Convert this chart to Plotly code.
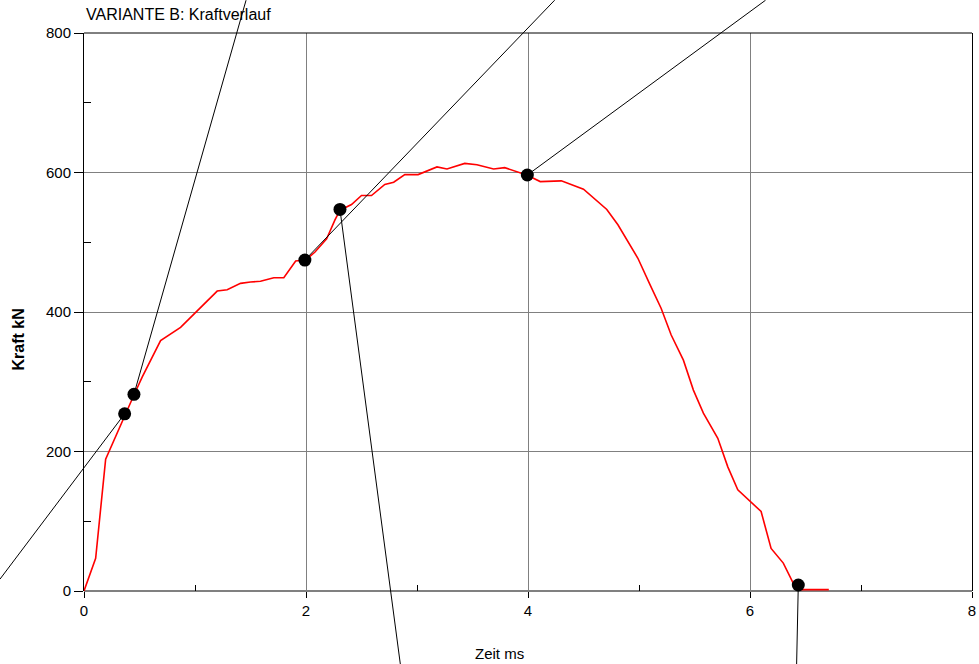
import plotly.graph_objects as go

# Kraftverlauf (red curve)
zeit = [0.0, 0.105, 0.195, 0.285, 0.366, 0.45, 0.525, 0.69, 0.87, 1.006,
        1.2, 1.29, 1.41, 1.5, 1.59, 1.71, 1.80, 1.907, 2.0, 2.081, 2.186, 2.261,
        2.306, 2.41, 2.50, 2.59, 2.71, 2.79, 2.89, 3.01, 3.18, 3.27, 3.43, 3.54,
        3.69, 3.79, 3.994, 4.11, 4.23, 4.30, 4.50, 4.71, 4.81, 4.89, 4.99, 5.10,
        5.20, 5.29, 5.40, 5.49, 5.58, 5.71, 5.80, 5.89, 6.00, 6.10, 6.19, 6.30,
        6.39, 6.44, 6.71]
kraft = [0, 47, 189, 222, 252, 281, 307, 359, 378, 400,
         430, 432, 441, 443, 444, 449, 449, 473, 475, 486, 505, 532,
         546, 554, 567, 567, 583, 586, 597, 597, 608, 605, 613, 611,
         605, 607, 596, 587, 588, 588, 576, 547, 525, 503, 477, 439,
         405, 367, 331, 288, 255, 219, 178, 145, 128, 114, 61, 40,
         11, 2, 2]

# marked points and the end points of the lines drawn from them
punkt_x = [0.366, 0.45, 1.99, 2.306, 3.994, 6.435]
punkt_y = [254, 282, 474.5, 547, 596.4, 8.6]
ende_x = [-0.757, 1.46, 4.24, 2.85, 6.14, 6.42]
ende_y = [17, 847, 847, -105, 847, -105]

x_ticks = [0, 2, 4, 6, 8]
x_minor = [1, 3, 5, 7]
y_ticks = [0, 200, 400, 600, 800]
y_minor = [100, 300, 500, 700]

W, H = 979, 664
# plot box in pixels
L, R, T, B = 84, 972, 33, 591
XMAX, YMAX = 8, 800

FONT = "Liberation Sans, Arial, sans-serif"

fig = go.Figure()

fig.add_trace(go.Scatter(x=zeit, y=kraft, mode="lines",
                         line=dict(color="#ff0000", width=1.6),
                         xaxis="x", yaxis="y", hoverinfo="skip"))

# lines and dots go on a full-figure overlay so they can run past the frame
for px, py, ex, ey in zip(punkt_x, punkt_y, ende_x, ende_y):
    fig.add_trace(go.Scatter(x=[px, ex], y=[py, ey], mode="lines",
                             line=dict(color="black", width=1),
                             xaxis="x2", yaxis="y2", hoverinfo="skip"))
fig.add_trace(go.Scatter(x=punkt_x, y=punkt_y, mode="markers",
                         marker=dict(color="black", size=13),
                         xaxis="x2", yaxis="y2", hoverinfo="skip"))

sx = XMAX / (R - L)
sy = YMAX / (B - T)

fig.update_layout(
    width=W, height=H,
    margin=dict(l=0, r=0, t=0, b=0, autoexpand=False),
    paper_bgcolor="white", plot_bgcolor="rgba(0,0,0,0)",
    showlegend=False,
    font=dict(family=FONT, size=15, color="black"),
    xaxis=dict(domain=[L / W, R / W], range=[0, XMAX], anchor="y",
               tickvals=x_ticks, ticks="outside", ticklen=6, tickcolor="black",
               showgrid=True, gridcolor="#808080", gridwidth=1,
               showline=False, zeroline=False, automargin=False,
               minor=dict(tickvals=x_minor, ticks="inside", ticklen=6,
                          tickcolor="black", showgrid=False),
               tickfont=dict(size=15), fixedrange=True),
    yaxis=dict(domain=[(H - B) / H, (H - T) / H], range=[0, YMAX], anchor="x",
               tickvals=y_ticks, ticks="outside", ticklen=9, tickcolor="black",
               showgrid=True, gridcolor="#808080", gridwidth=1,
               showline=True, linecolor="black", linewidth=1, mirror=True,
               zeroline=True, zerolinecolor="#808080", zerolinewidth=2,
               automargin=False,
               minor=dict(tickvals=y_minor, ticks="inside", ticklen=7,
                          tickcolor="black", showgrid=False),
               tickfont=dict(size=15), fixedrange=True),
    xaxis2=dict(domain=[0, 1], range=[-L * sx, XMAX + (W - R) * sx],
                anchor="y2", visible=False, fixedrange=True),
    yaxis2=dict(domain=[0, 1], range=[-(H - B) * sy, YMAX + T * sy],
                anchor="x2", visible=False, fixedrange=True),
    shapes=[dict(type="line", xref="x domain", yref="y domain",
                 x0=0, x1=1, y0=1, y1=1, line=dict(color="black", width=1))],
    annotations=[
        dict(text="VARIANTE B: Kraftverlauf", xref="paper", yref="paper",
             x=84 / W, y=1 - 15 / H, xanchor="left", yanchor="middle",
             showarrow=False, font=dict(size=16)),
        dict(text="<b>Kraft kN</b>", xref="paper", yref="paper",
             x=17.5 / W, y=1 - 340 / H, textangle=-90,
             xanchor="center", yanchor="middle", showarrow=False,
             font=dict(size=16)),
        dict(text="Zeit ms", xref="paper", yref="paper",
             x=500 / W, y=1 - 653 / H, xanchor="center", yanchor="middle",
             showarrow=False, font=dict(size=15)),
    ],
)

fig.write_html("out.html", config={"displayModeBar": False},
               post_script="document.body.style.margin='0';"
                           "document.body.style.overflow='hidden';")
